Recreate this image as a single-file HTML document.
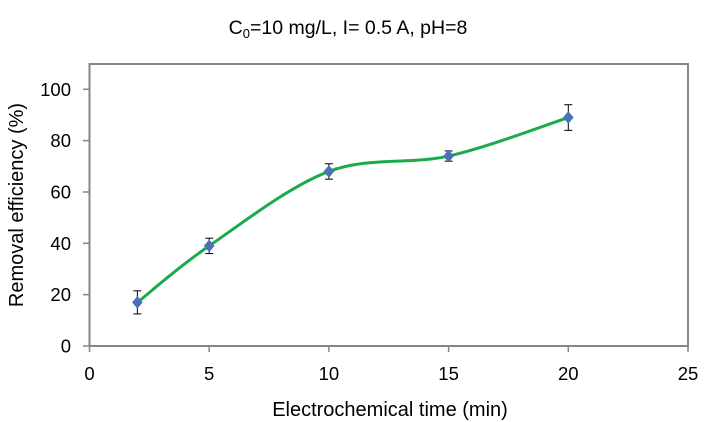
<!DOCTYPE html>
<html><head><meta charset="utf-8"><style>
body{margin:0;background:#fff;}
svg{display:block;font-family:"Liberation Sans",sans-serif;}
</style></head><body>
<svg id="chart" width="706" height="422">
<text x="348" y="34" font-size="19.5" text-anchor="middle" fill="#000">C<tspan font-size="13" dy="4">0</tspan><tspan dy="-4">=10 mg/L, I= 0.5 A, pH=8</tspan></text>
<rect x="89.5" y="64" width="598.5" height="282" fill="none" stroke="#868686" stroke-width="2"/>
<g id="axes"></g>
<path id="curve" fill="none" stroke="#1aab4b" stroke-width="3"/>
<g id="marks"></g>
<text x="390" y="416" font-size="20" text-anchor="middle">Electrochemical time (min)</text>
<text transform="translate(23,205) rotate(-90)" font-size="20" text-anchor="middle">Removal efficiency (%)</text>
</svg>
<script>
const xValues=[2,5,10,15,20];
const yValues=[17,39,68,74,89];
const yErrors=[4.5,3,3,2,5];
const xTicks=[0,5,10,15,20,25];
const yTicks=[0,20,40,60,80,100];
const X0=89.5,X1=688,Y0=346,YP=2.567;
const sx=v=>X0+(X1-X0)*v/25;
const sy=v=>Y0-v*YP;
const NS='http://www.w3.org/2000/svg';
const axes=document.getElementById('axes'),marks=document.getElementById('marks');
function mk(t,a,p){const e=document.createElementNS(NS,t);for(const k in a)e.setAttribute(k,a[k]);p.appendChild(e);return e;}
xTicks.forEach(t=>{
 const l=mk('line',{x1:sx(t),x2:sx(t),y1:346,y2:352,stroke:'#868686','stroke-width':1.5},axes);
 
 
 const s=mk('text',{x:sx(t),y:380,'font-size':18.5,'text-anchor':'middle'},axes);s.textContent=t;
 
 
});
yTicks.forEach(t=>{
 const l=mk('line',{x1:83,x2:89.5,y1:sy(t),y2:sy(t),stroke:'#868686','stroke-width':1.5},axes);
 
 
 const s=mk('text',{x:71,y:sy(t)+6.5,'font-size':18.5,'text-anchor':'end'},axes);s.textContent=t;
 
 
});
const pts=xValues.map((x,i)=>[sx(x),sy(yValues[i])]);
let d='M'+pts[0][0]+','+pts[0][1];
for(let i=0;i<pts.length-1;i++){
 const p0=pts[Math.max(0,i-1)],p1=pts[i],p2=pts[i+1],p3=pts[Math.min(pts.length-1,i+2)];
 const k=1/6;
 d+=` C${p1[0]+(p2[0]-p0[0])*k},${p1[1]+(p2[1]-p0[1])*k} ${p2[0]-(p3[0]-p1[0])*k},${p2[1]-(p3[1]-p1[1])*k} ${p2[0]},${p2[1]}`;
}
document.getElementById('curve').setAttribute('d',d);
xValues.forEach((x,i)=>{
 const cx=sx(x),hi=sy(yValues[i]+yErrors[i]),lo=sy(yValues[i]-yErrors[i]);
 const g=mk('g',{},marks);
 
 
 mk('line',{x1:cx,x2:cx,y1:hi,y2:lo,stroke:'#000','stroke-width':1},g);
 mk('line',{x1:cx-4,x2:cx+4,y1:hi,y2:hi,stroke:'#000','stroke-width':1},g);
 mk('line',{x1:cx-4,x2:cx+4,y1:lo,y2:lo,stroke:'#000','stroke-width':1},g);
 const cy=sy(yValues[i]);
 const p=mk('polygon',{points:`${cx},${cy-6} ${cx+5},${cy} ${cx},${cy+6} ${cx-5},${cy}`,fill:'#4a72b8',stroke:'#3e64a6','stroke-width':0.5},marks);
 
 
});
</script>
</body></html>
